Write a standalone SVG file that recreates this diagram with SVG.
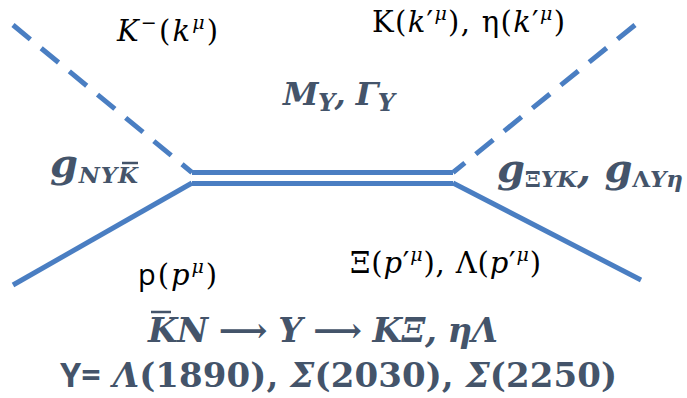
<svg xmlns="http://www.w3.org/2000/svg" width="687" height="398" viewBox="0 0 687 398">
<style>
.ln{stroke:#4A7EC2;stroke-width:5;fill:none;stroke-linecap:butt}
.dash{stroke-dasharray:22.5 14}
.m{font-family:"DejaVu Serif","DejaVu Sans",serif;fill:#000}
.b{font-family:"DejaVu Serif","DejaVu Sans",serif;font-weight:bold;font-style:italic;fill:#44546A}
.s{font-family:"Open Sans","Liberation Sans",sans-serif}
.i{font-style:italic}
.n{font-style:normal}
.bar{stroke:#44546A;stroke-width:2.5}
</style>
<rect width="687" height="398" fill="#fff"/>
<g id="connectors">
<line class="ln dash" x1="13" y1="25" x2="192" y2="172.5"/>
<line class="ln dash" x1="635" y1="25" x2="453" y2="172.5"/>
<line class="ln" x1="192" y1="172.5" x2="453" y2="172.5"/>
<line class="ln" x1="192" y1="183.5" x2="453" y2="183.5"/>
<line class="ln" x1="192" y1="183" x2="13" y2="285"/>
<line class="ln" x1="453" y1="183" x2="641" y2="280"/>
</g>
<g id="label-kminus">
<text class="m" x="117" y="41" font-size="29" textLength="101"><tspan class="i">K</tspan><tspan font-size="19" dy="-12">−</tspan><tspan dy="12">(</tspan><tspan class="i">k</tspan><tspan class="i" font-size="19" dy="-12">μ</tspan><tspan dy="12">)</tspan></text>
</g>
<g id="label-kout">
<text class="m" x="372" y="32" font-size="29" textLength="193">K(<tspan class="i">k</tspan>′<tspan class="i" font-size="19" dy="-12">μ</tspan><tspan dy="12">), η(</tspan><tspan class="i">k</tspan>′<tspan class="i" font-size="19" dy="-12">μ</tspan><tspan dy="12">)</tspan></text>
</g>
<g id="label-p">
<text class="m" x="138" y="285" font-size="29" textLength="79"><tspan class="s">p</tspan>(<tspan class="i">p</tspan><tspan class="i" font-size="19" dy="-12">μ</tspan><tspan dy="12">)</tspan></text>
</g>
<g id="label-pout">
<text class="m" x="350" y="273" font-size="29" textLength="191">Ξ(<tspan class="i">p</tspan>′<tspan class="i" font-size="19" dy="-12">μ</tspan><tspan dy="12">), Λ(</tspan><tspan class="i">p</tspan>′<tspan class="i" font-size="19" dy="-12">μ</tspan><tspan dy="12">)</tspan></text>
</g>
<g id="label-mass">
<text class="b" x="283" y="105" font-size="32" textLength="112">M<tspan font-size="24" dy="6">Y</tspan><tspan dy="-6">, Γ</tspan><tspan font-size="24" dy="6">Y</tspan></text>
</g>
<g id="label-gin">
<text class="b" x="50" y="177" font-size="40" textLength="88">g<tspan font-size="23" dy="6">NYK</tspan></text>
<line class="bar" x1="122" y1="163" x2="138" y2="163"/>
</g>
<g id="label-gout">
<text class="b" x="497" y="182" font-size="40" textLength="186">g<tspan font-size="23" dy="5"><tspan class="n">Ξ</tspan>YK</tspan><tspan dy="-5">, g</tspan><tspan font-size="23" dy="5"><tspan class="n">Λ</tspan>Yη</tspan></text>
</g>
<g id="title-reaction">
<text class="b" x="148" y="342" font-size="34" textLength="350">KN <tspan class="n">⟶</tspan> Y <tspan class="n">⟶</tspan> KΞ, ηΛ</text>
<line class="bar" x1="151" y1="312" x2="171" y2="312" stroke-width="3"/>
</g>
<g id="title-states">
<text class="b" x="60" y="387" font-size="34" textLength="557"><tspan class="s n">Y=</tspan> Λ<tspan class="n">(1890),</tspan> Σ<tspan class="n">(2030),</tspan> Σ<tspan class="n">(2250)</tspan></text>
</g>
</svg>
